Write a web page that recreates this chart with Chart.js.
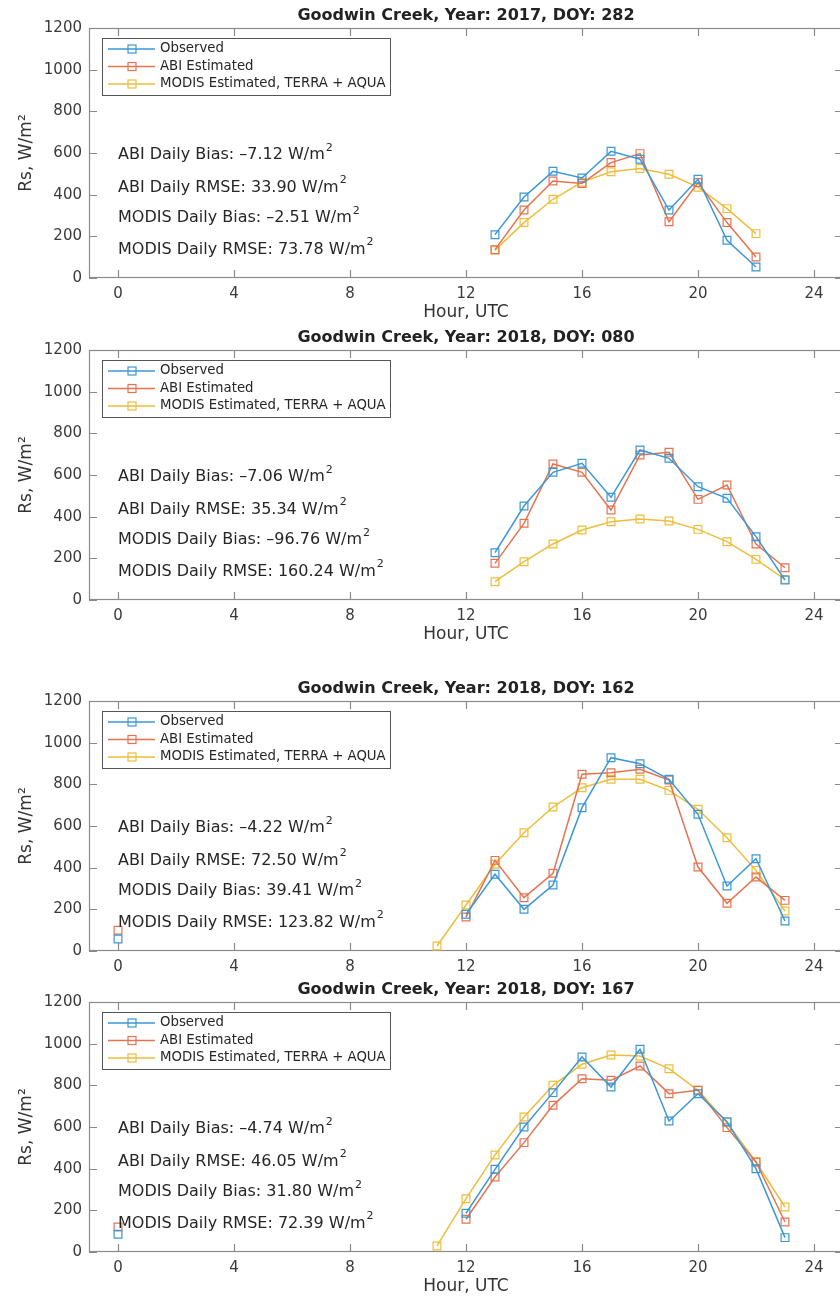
<!DOCTYPE html>
<html>
<head>
<meta charset="utf-8">
<script src="https://cdn.jsdelivr.net/npm/chart.js@4.4.1/dist/chart.umd.min.js"></script>
<style>
  html, body { margin: 0; padding: 0; background: #fff; }
  body { width: 840px; height: 1299px; overflow: hidden; position: relative; }
  .panel { position: absolute; left: 0; width: 844px; height: 330px; background: #fff; }
  .panel canvas { display: block; }
</style>
</head>
<body>
<div class="panel" style="top:0px"><canvas id="c1" width="844" height="330"></canvas></div>
<div class="panel" style="top:322px"><canvas id="c2" width="844" height="330"></canvas></div>
<div class="panel" style="top:673px"><canvas id="c3" width="844" height="330"></canvas></div>
<div class="panel" style="top:974px"><canvas id="c4" width="844" height="330"></canvas></div>
<script>
// hours 0..23, null = no value
const hours = [0,1,2,3,4,5,6,7,8,9,10,11,12,13,14,15,16,17,18,19,20,21,22,23];
const xTicks = [0, 4, 8, 12, 16, 20, 24];

const seriesNames = ["Observed", "ABI Estimated", "MODIS Estimated, TERRA + AQUA"];
const seriesColors = ["#3b97d8", "#e5734f", "#eebd3c"];

const titles = [
  "Goodwin Creek, Year: 2017, DOY: 282",
  "Goodwin Creek, Year: 2018, DOY: 080",
  "Goodwin Creek, Year: 2018, DOY: 162",
  "Goodwin Creek, Year: 2018, DOY: 167"
];

// 2017 / 282
const obs1 = [null,null,null,null,null,null,null,null,null,null,null,null,null,208,389,512,480,608,570,326,474,181,53,null];
const abi1 = [null,null,null,null,null,null,null,null,null,null,null,null,null,136,326,466,454,554,597,270,458,266,101,null];
const mod1 = [null,null,null,null,null,null,null,null,null,null,null,null,null,134,266,378,460,510,526,498,436,333,213,null];
// 2018 / 080
const obs2 = [null,null,null,null,null,null,null,null,null,null,null,null,null,227,451,613,656,493,720,680,544,488,304,96];
const abi2 = [null,null,null,null,null,null,null,null,null,null,null,null,null,176,368,653,613,432,696,709,483,552,269,155];
const mod2 = [null,null,null,null,null,null,null,null,null,null,null,null,null,88,184,269,336,376,389,379,339,280,195,99];
// 2018 / 162
const obs3 = [58,null,null,null,null,null,null,null,null,null,null,null,176,368,200,317,688,928,899,824,656,312,443,144];
const abi3 = [100,null,null,null,null,null,null,null,null,null,null,null,163,435,256,373,848,856,872,821,403,229,355,243];
const mod3 = [null,null,null,null,null,null,null,null,null,null,null,24,221,416,568,691,784,824,824,771,680,544,387,192];
// 2018 / 167
const obs4 = [85,null,null,null,null,null,null,null,null,null,null,null,186,397,600,765,936,792,973,629,760,625,400,69];
const abi4 = [120,null,null,null,null,null,null,null,null,null,null,null,157,360,525,704,832,824,893,760,776,597,432,144];
const mod4 = [null,null,null,null,null,null,null,null,null,null,null,29,256,466,648,800,901,946,941,880,776,621,432,216];

// daily stats: ABI bias, ABI RMSE, MODIS bias, MODIS RMSE
const statLabels = ["ABI Daily Bias: ", "ABI Daily RMSE: ", "MODIS Daily Bias: ", "MODIS Daily RMSE: "];
const stats1 = [-7.12, 33.90, -2.51, 73.78];
const stats2 = [-7.06, 35.34, -96.76, 160.24];
const stats3 = [-4.22, 72.50, 39.41, 123.82];
const stats4 = [-4.74, 46.05, 31.80, 72.39];
const statY = [590, 435, 288, 137]; // where each line sits, in W/m2

const FONT = "'DejaVu Sans', sans-serif";

const framePlugin = {
  id: "frame",
  beforeDatasetsDraw(chart) {
    const { ctx, chartArea: a, scales: { x, y } } = chart;
    const tl = 8;
    ctx.save();
    ctx.strokeStyle = "#8a8a8a";
    ctx.lineWidth = 1.2;
    ctx.strokeRect(a.left + 0.5, a.top + 0.5, a.right - a.left - 1, a.bottom - a.top - 1);
    ctx.beginPath();
    x.ticks.forEach(t => {
      const px = Math.round(x.getPixelForValue(t.value)) + 0.5;
      ctx.moveTo(px, a.bottom); ctx.lineTo(px, a.bottom - tl);
      ctx.moveTo(px, a.top); ctx.lineTo(px, a.top + tl);
    });
    y.ticks.forEach(t => {
      const py = Math.round(y.getPixelForValue(t.value)) + 0.5;
      ctx.moveTo(a.left, py); ctx.lineTo(a.left + tl, py);
      ctx.moveTo(a.right, py); ctx.lineTo(a.right - tl, py);
    });
    ctx.stroke();
    ctx.restore();
  },
  afterDatasetsDraw(chart, args, opts) {
    const { ctx, chartArea: a, scales: { x, y } } = chart;
    ctx.save();

    // stats text
    ctx.fillStyle = "#262626";
    ctx.textBaseline = "middle";
    ctx.textAlign = "left";
    opts.stats.forEach((v, i) => {
      const num = (v < 0 ? "\u2013" + Math.abs(v).toFixed(2) : v.toFixed(2));
      const txt = statLabels[i] + num + " W/m";
      const px = x.getPixelForValue(0);
      const py = y.getPixelForValue(statY[i]);
      ctx.font = "16px " + FONT;
      ctx.fillText(txt, px, py);
      const w = ctx.measureText(txt).width;
      ctx.font = "11px " + FONT;
      ctx.fillText("2", px + w + 1, py - 7);
    });

    // legend box
    const lx = a.left + 13, ly = a.top + 10;
    ctx.fillStyle = "#fff";
    ctx.fillRect(lx, ly, 288, 57);
    ctx.strokeStyle = "#555";
    ctx.lineWidth = 1;
    ctx.strokeRect(lx + 0.5, ly + 0.5, 288, 57);
    ctx.font = "13.3px " + FONT;
    chart.data.datasets.forEach((ds, i) => {
      const ry = ly + 11 + i * 17.5;
      ctx.strokeStyle = ds.borderColor;
      ctx.lineWidth = 1.5;
      ctx.beginPath();
      ctx.moveTo(lx + 6, ry); ctx.lineTo(lx + 53, ry);
      ctx.stroke();
      ctx.lineWidth = 1.2;
      ctx.strokeRect(lx + 26, ry - 4, 8, 8);
      ctx.fillStyle = "#262626";
      ctx.fillText(ds.label, lx + 58, ry);
    });
    ctx.restore();
  }
};

function toPoints(vals) {
  return hours.map((h, i) => ({ x: h, y: vals[i] }));
}

function makeChart(id, title, series, stats) {
  new Chart(document.getElementById(id), {
    type: "line",
    data: {
      datasets: series.map((vals, i) => ({
        label: seriesNames[i],
        data: toPoints(vals),
        borderColor: seriesColors[i],
        backgroundColor: seriesColors[i],
        pointBackgroundColor: "rgba(0,0,0,0)",
        pointBorderColor: seriesColors[i],
        pointStyle: "rect",
        pointRadius: 5.5,
        pointBorderWidth: 1.2,
        borderWidth: 1.5,
        tension: 0,
        spanGaps: false,
        fill: false
      }))
    },
    options: {
      responsive: false,
      animation: false,
      devicePixelRatio: 1,
      events: [],
      layout: { autoPadding: false, padding: { top: 0, right: 1, bottom: 0, left: 0 } },
      plugins: {
        legend: { display: false },
        tooltip: { enabled: false },
        title: {
          display: true,
          text: title,
          fullSize: false,
          color: "#222",
          font: { family: FONT, size: 16, weight: "bold" },
          padding: { top: 6, bottom: 2.8 }
        },
        frame: { stats: stats }
      },
      scales: {
        x: {
          type: "linear",
          min: -1,
          max: 25,
          afterBuildTicks: s => { s.ticks = xTicks.map(v => ({ value: v })); },
          afterFit: s => { s.height = 52; s.paddingLeft = 0; s.paddingRight = 0; },
          grid: { display: false, drawTicks: false },
          border: { display: false },
          ticks: { color: "#3a3a3a", font: { family: FONT, size: 15 }, padding: 7, maxRotation: 0,
                   callback: v => String(v) },
          title: {
            display: true, text: "Hour, UTC", color: "#333",
            font: { family: FONT, size: 17 }, padding: { top: 0, bottom: 7 }
          }
        },
        y: {
          min: 0,
          max: 1200,
          afterFit: s => { s.width = 89; s.paddingTop = 0; s.paddingBottom = 0; },
          grid: { display: false, drawTicks: false },
          border: { display: false },
          ticks: { stepSize: 200, color: "#3a3a3a", font: { family: FONT, size: 15 }, padding: 7,
                   callback: v => String(v) },
          title: {
            display: true, text: "Rs, W/m\u00B2", color: "#333",
            font: { family: FONT, size: 17 }, padding: { top: 16, bottom: 0 }
          }
        }
      }
    },
    plugins: [framePlugin]
  });
}

makeChart("c1", titles[0], [obs1, abi1, mod1], stats1);
makeChart("c2", titles[1], [obs2, abi2, mod2], stats2);
makeChart("c3", titles[2], [obs3, abi3, mod3], stats3);
makeChart("c4", titles[3], [obs4, abi4, mod4], stats4);
</script>
</body>
</html>
